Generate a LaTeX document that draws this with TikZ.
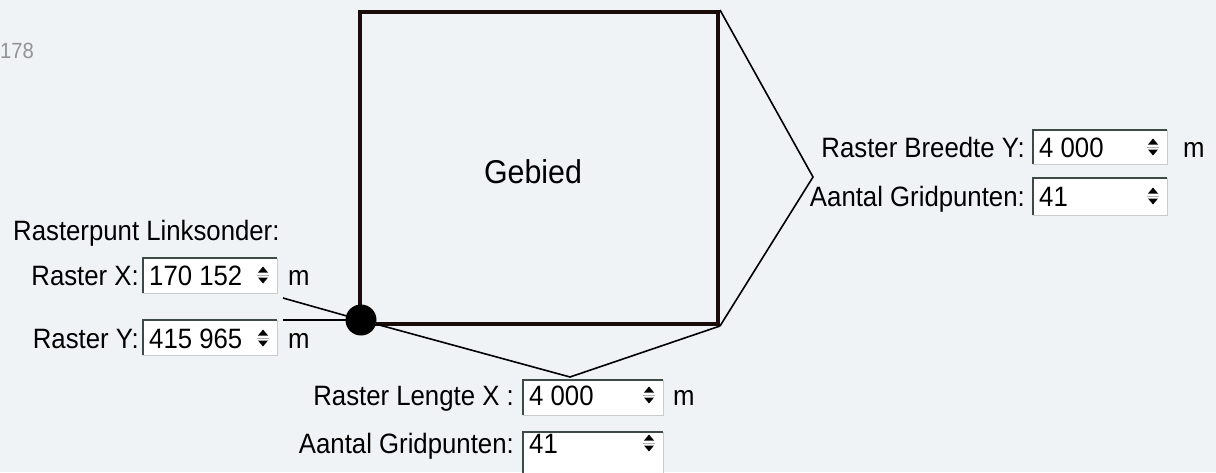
\documentclass[tikz,border=0pt]{standalone}
\usepackage{fontspec}
\setmainfont[FakeStretch=0.92]{Liberation Sans}
\usetikzlibrary{calc}
\definecolor{bg}{HTML}{F0F3F6}
\definecolor{frame}{HTML}{1A0A0A}
\definecolor{darkedge}{HTML}{3E4A46}
\definecolor{lightedge}{HTML}{C8CCCC}
\begin{document}
\begin{tikzpicture}[x=1pt,y=-1pt,
  lbl/.style={font=\fontsize{28}{30}\selectfont, inner sep=0pt, anchor=base east},
  val/.style={font=\fontsize{28}{30}\selectfont, inner sep=0pt, anchor=base west},
  unit/.style={font=\fontsize{28}{30}\selectfont, inner sep=0pt, anchor=base west},
  conn/.style={draw=black, line width=1.6pt},
  fieldbox/.style={fill=white, draw=none, inner sep=0pt, anchor=north west}
]
\useasboundingbox[fill=bg] (0,0) rectangle (1216,472);
\clip (0,0) rectangle (1216,472);

% corner number
\node[font=\fontsize{22}{24}\selectfont, text=gray!85, anchor=base west, inner sep=0pt] (num) at (0,58) {178};

% main area
\node[draw=frame, line width=4pt, minimum width=358pt, minimum height=312pt, anchor=north west, inner sep=0pt] (gebied) at (358,10) {};
\node[font=\fontsize{33}{36}\selectfont, inner sep=0pt] (geblabel) at (533,172) {Gebied};
\node[circle, fill=black, minimum size=31pt, inner sep=0pt] (dot) at (361,320) {};

% helper for fields: name, x1, y1, x2, y2, value, baseline
\newcommand\myfield[7]{%
  \node[fieldbox, minimum width=#4pt-#2pt, minimum height=#5pt-#3pt] (#1) at (#2,#3) {};
  \draw[darkedge, line width=2pt] (#1.south west) -- (#1.north west) -- (#1.north east);
  \draw[lightedge, line width=1.2pt] (#1.north east) -- (#1.south east) -- (#1.south west);
  \node[val] (#1v) at (#2+6,#7) {#6};
  \coordinate (#1s) at (#4-14,#7-10);
  \fill ($(#1s)+(-5,-2.5)$) -- ++(10,0) -- ++(-5,-6) -- cycle;
  \fill ($(#1s)+(-5,2.5)$) -- ++(10,0) -- ++(-5,6) -- cycle;
  \draw[gray!60, line width=0.8pt] ($(#1s)+(-6,0)$) -- ++(12,0);
}

% left fields
\node[font=\fontsize{28}{30}\selectfont, inner sep=0pt, anchor=base west] (lo) at (13,240) {Rasterpunt Linksonder:};
\myfield{fx}{143}{258}{277}{293}{170 152}{285}
\myfield{fy}{143}{320}{277}{355}{415 965}{348}
\node[lbl] (lx) at (139,285) {Raster X:};
\node[lbl] (ly) at (139,348) {Raster Y:};
\node[unit] (mx) at (288,285) {m};
\node[unit] (my) at (288,348) {m};

% bottom fields
\myfield{flx}{523}{380}{663}{415}{4 000}{405}
\myfield{fgx}{523}{432}{663}{480}{41}{453}
\node[lbl] (llx) at (514,405) {Raster Lengte X :};
\node[lbl] (lgx) at (514,453) {Aantal Gridpunten:};
\node[unit] (mlx) at (673,405) {m};

% right fields
\myfield{fby}{1033}{130}{1167}{164}{4 000}{157}
\myfield{fgy}{1033}{178}{1167}{215}{41}{206}
\node[lbl] (lby) at (1025,157) {Raster Breedte Y:};
\node[lbl] (lgy) at (1025,206) {Aantal Gridpunten:};
\node[unit] (mby) at (1183,157) {m};

% connectors
\coordinate (rapex) at (813,177);
\coordinate (bapex) at (570,377);
\coordinate (lx1) at (283,298);
\coordinate (ly1) at (283,320);
\draw[conn] (gebied.north east) -- (rapex) -- (gebied.south east);
\draw[conn] (dot.center) -- (bapex) -- (gebied.south east);
\draw[conn] (lx1) -- (dot.center);
\draw[conn] (ly1) -- (dot.center);
\end{tikzpicture}
\end{document}
